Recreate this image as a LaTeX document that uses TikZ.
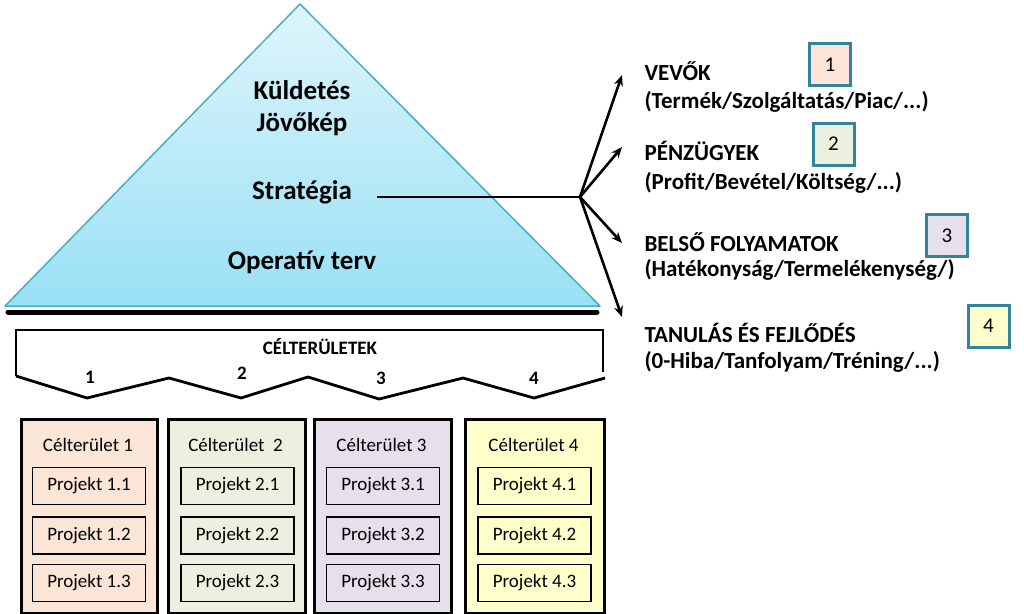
\documentclass[tikz,border=0pt]{standalone}
\usepackage{fontspec}
\setmainfont{Carlito}
\usetikzlibrary{arrows.meta}
\definecolor{pyrtop}{HTML}{DFF5FB}
\definecolor{pyrbot}{HTML}{98E0F5}
\definecolor{pyredge}{HTML}{4BACC6}
\definecolor{numedge}{HTML}{31849B}
\definecolor{cA}{HTML}{FBE5D6}
\definecolor{cB}{HTML}{EBF1DE}
\definecolor{cC}{HTML}{E5E0EC}
\definecolor{cD}{HTML}{FFFFCC}
\begin{document}
\begin{tikzpicture}[x=1pt,y=-1pt,
  pyrtext/.style={font=\fontsize{27}{30}\selectfont\bfseries},
  righthead/.style={anchor=west,font=\fontsize{23}{26}\selectfont\bfseries},
  numbox/.style={draw=numedge,line width=3pt,minimum width=41pt,minimum height=42pt,inner sep=0pt,font=\fontsize{21}{24}\selectfont},
  bracelabel/.style={font=\fontsize{19}{21}\selectfont\bfseries},
  colbox/.style={draw,line width=2.5pt,anchor=north west,inner sep=0pt},
  coltitle/.style={font=\fontsize{19}{22}\selectfont},
  projbox/.style={draw,line width=1.8pt,minimum width=113pt,minimum height=37pt,inner sep=0pt,font=\fontsize{19}{22}\selectfont},
  arr/.style={line width=2.6pt,-{Stealth[length=11pt,width=9pt]}},
  thick line/.style={line width=2.8pt}]
\useasboundingbox (0,0) rectangle (1024,613);
% pyramid
\shadedraw[top color=pyrtop,bottom color=pyrbot,draw=pyredge,line width=1.5pt,line join=round] (300,4) -- (600,306) -- (5,306) -- cycle;
\draw[line width=5pt,line cap=round] (8,312) -- (597,312);
\node[pyrtext] (kul) at (302,90) {Küldetés};
\node[pyrtext] (jov) at (302,124) {Jövőkép};
\node[pyrtext] (str) at (302,192) {Stratégia};
\node[pyrtext] (ope) at (302,262) {Operatív terv};
% branching
\coordinate (lstart) at (377,197);
\coordinate (br) at (580,197);
\coordinate (tv) at (622,75);
\coordinate (tp) at (622,147);
\coordinate (tb) at (622,243);
\coordinate (tt) at (622,317);
\draw[line width=2.5pt] (lstart) -- (br);
\draw[arr] (br) -- (tv);
\draw[arr] (br) -- (tp);
\draw[arr] (br) -- (tb);
\draw[arr] (br) -- (tt);
% right texts
\node[righthead] (h1) at (641,71) {VEVŐK};
\node[righthead] (s1) at (641,102) {(Termék/Szolgáltatás/Piac/...)};
\node[righthead] (h2) at (641,151) {PÉNZÜGYEK};
\node[righthead] (s2) at (641,183) {(Profit/Bevétel/Költség/...)};
\node[righthead] (h3) at (641,242) {BELSŐ FOLYAMATOK};
\node[righthead] (s3) at (641,270) {(Hatékonyság/Termelékenység/)};
\node[righthead] (h4) at (641,333) {TANULÁS ÉS FEJLŐDÉS};
\node[righthead] (s4) at (641,362) {(0-Hiba/Tanfolyam/Tréning/...)};
% number boxes
\node[numbox,fill=cA] (n1) at (830,64.5) {1};
\node[numbox,fill=cB] (n2) at (833.5,144) {2};
\node[numbox,fill=cC] (n3) at (947,235.5) {3};
\node[numbox,fill=cD] (n4) at (988.5,326) {4};
% brace
\draw[thick line,line join=miter] (16,376) -- (16,330) -- (603,330) -- (603,372);
\draw[thick line,line join=round] (16,376) -- (87,398) -- (169,378) -- (241,398) -- (308,377) -- (379,399) -- (463,378) -- (534,398) -- (605,378);
\node[bracelabel] (cel) at (320,347) {CÉLTERÜLETEK};
\node[bracelabel] (b1) at (90,377) {1};
\node[bracelabel] (b2) at (242,373) {2};
\node[bracelabel] (b3) at (381,378) {3};
\node[bracelabel] (b4) at (534,378) {4};
% columns
\node[colbox,fill=cA,minimum width=136pt,minimum height=194pt] (c1) at (20,418) {};
\node[colbox,fill=cB,minimum width=137pt,minimum height=194pt] (c2) at (167,418) {};
\node[colbox,fill=cC,minimum width=137pt,minimum height=194pt] (c3) at (313,418) {};
\node[colbox,fill=cD,minimum width=139pt,minimum height=194pt] (c4) at (464,418) {};
\node[coltitle] (t1) at (88,445) {Célterület 1};
\node[coltitle] (t2) at (235.5,445) {Célterület~~2};
\node[coltitle] (t3) at (381.5,445) {Célterület 3};
\node[coltitle] (t4) at (533.5,445) {Célterület 4};
\node[projbox,fill=cA] (p11) at (89,486) {Projekt 1.1};
\node[projbox,fill=cA] (p12) at (89,535.5) {Projekt 1.2};
\node[projbox,fill=cA] (p13) at (89,583) {Projekt 1.3};
\node[projbox,fill=cB] (p21) at (237.5,486) {Projekt 2.1};
\node[projbox,fill=cB] (p22) at (237.5,535.5) {Projekt 2.2};
\node[projbox,fill=cB] (p23) at (237.5,583) {Projekt 2.3};
\node[projbox,fill=cC] (p31) at (383,486) {Projekt 3.1};
\node[projbox,fill=cC] (p32) at (383,535.5) {Projekt 3.2};
\node[projbox,fill=cC] (p33) at (383,583) {Projekt 3.3};
\node[projbox,fill=cD] (p41) at (534.5,486) {Projekt 4.1};
\node[projbox,fill=cD] (p42) at (534.5,535.5) {Projekt 4.2};
\node[projbox,fill=cD] (p43) at (534.5,583) {Projekt 4.3};
\end{tikzpicture}
\end{document}
